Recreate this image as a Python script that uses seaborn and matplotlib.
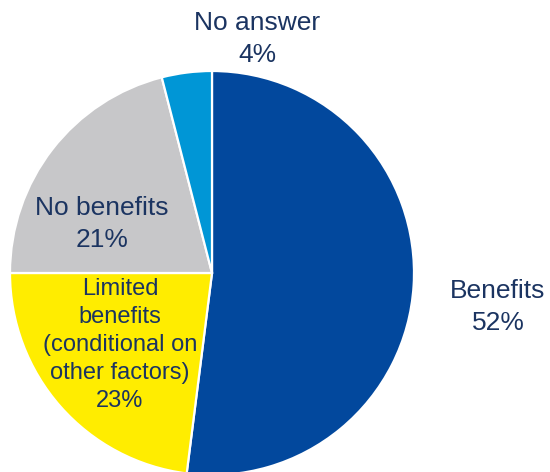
import matplotlib
matplotlib.use("Agg")
import matplotlib.pyplot as plt
import seaborn as sns

categories = ["Benefits", "Limited\nbenefits\n(conditional on\nother factors)", "No benefits", "No answer"]
values = [52, 23, 21, 4]
colors = ["#02489D", "#FFED00", "#C7C7C9", "#0096D6"]

sns.set_theme(style="white")
plt.rcParams['font.family'] = ['Liberation Sans', 'DejaVu Sans']

W, H = 550, 472
CX, CY, R = 212, 273, 202

fig = plt.figure(figsize=(W / 100, H / 100), dpi=100)
ax = fig.add_axes([0, 0, 1, 1])
ax.pie(values, colors=colors, startangle=90, counterclock=False,
       wedgeprops=dict(edgecolor="white", linewidth=1.6), radius=1)
ax.set_xlim(-CX / R, (W - CX) / R)
ax.set_ylim((CY - H) / R, CY / R)
ax.set_aspect("equal")
ax.axis("off")


def px(x, y):
    return (x - CX) / R, (CY - y) / R


text_color = "#1B3461"
label_pos = [(498, 307), (120, 345), (102, 224), (257, 39)]
sizes = [19, 17, 19, 19]
spacing = [1.37, 1.35, 1.37, 1.37]
for cat, val, (x, y), fs, ls in zip(categories, values, label_pos, sizes, spacing):
    tx, ty = px(x, y)
    ax.text(tx, ty, f"{cat}\n{val}%", ha="center", va="center", fontsize=fs,
            color=text_color, linespacing=ls, multialignment="center")

fig.savefig("out.png", dpi=100, facecolor="white")
